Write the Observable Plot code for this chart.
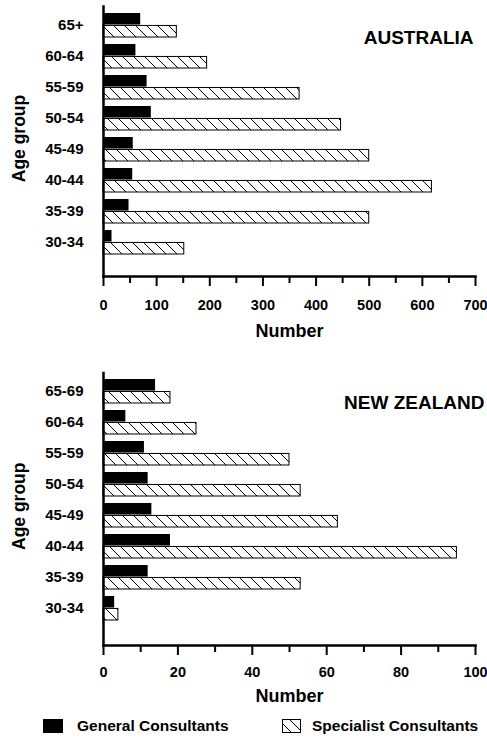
<!DOCTYPE html>
<html>
<head>
<meta charset="utf-8">
<script src="https://cdn.jsdelivr.net/npm/d3@7"></script>
<script src="https://cdn.jsdelivr.net/npm/@observablehq/plot@0.6"></script>
<style>
  html, body { margin: 0; padding: 0; background: #fff; }
  #root { width: 487px; position: relative; }
  #root svg { display: block; }
</style>
</head>
<body>
<svg width="0" height="0" style="position:absolute">
  <defs>
    <pattern id="hatch" patternUnits="userSpaceOnUse" width="11" height="11">
      <path d="M-1,-1 L12,12 M-1,10 L1,12 M10,-1 L12,1" stroke="black" stroke-width="1" fill="none"/>
    </pattern>
  </defs>
</svg>
<div id="root"></div>
<script>
// ---- Data ----
const ausAges = ["30-34", "35-39", "40-44", "45-49", "50-54", "55-59", "60-64", "65+"];
const ausGeneral = [16, 48, 55, 56, 90, 82, 61, 70];
const ausSpecialist = [152, 500, 618, 500, 447, 369, 195, 138];
const ausTicks = [0, 100, 200, 300, 400, 500, 600, 700];
const ausMinorTicks = [50, 150, 250, 350, 450, 550, 650];

const nzAges = ["30-34", "35-39", "40-44", "45-49", "50-54", "55-59", "60-64", "65-69"];
const nzGeneral = [3, 12, 18, 13, 12, 11, 6, 14];
const nzSpecialist = [4, 53, 95, 63, 53, 50, 25, 18];
const nzTicks = [0, 20, 40, 60, 80, 100];
const nzMinorTicks = [10, 30, 50, 70, 90];

const seriesNames = ["General Consultants", "Specialist Consultants"];
const yLabel = "Age group";
const xLabel = "Number";

const FONT = "'Liberation Sans', Arial, Helvetica, sans-serif";

function makeChart(cfg) {
  const rows = cfg.ages.map((a, i) => ({age: a, general: cfg.general[i], specialist: cfg.specialist[i]}));
  const half = 12.45;
  return Plot.plot({
    width: 487,
    height: cfg.height,
    marginLeft: 103,
    marginRight: 12,
    marginTop: cfg.marginTop,
    marginBottom: cfg.marginBottom,
    style: {fontFamily: FONT, fontSize: "14px", fontWeight: "bold", background: "white", color: "black", overflow: "visible"},
    x: {domain: [0, cfg.ticks[cfg.ticks.length - 1]], label: null},
    y: {domain: cfg.ages.slice().reverse(), paddingInner: 0.22, paddingOuter: 0.1, insetBottom: cfg.insetBottom, label: null},
    marks: [
      Plot.barX(rows, {y: "age", x: "general", fill: "black", insetBottom: half}),
      Plot.barX(rows, {y: "age", x: "specialist", fill: "url(#hatch)", stroke: "black", strokeWidth: 1, insetTop: half}),
      Plot.frame({anchor: "left", stroke: "black", strokeWidth: 2.5}),
      Plot.frame({anchor: "bottom", stroke: "black", strokeWidth: 2.5}),
      Plot.axisY({tickSize: 0, tickPadding: 20, fontSize: 15, fontWeight: "bold", label: null}),
      Plot.axisX({ticks: cfg.ticks, tickSize: 10, tickPadding: cfg.labelPad, strokeWidth: 2, fontSize: 14.5, fontWeight: "bold", label: null}),
      Plot.axisX({ticks: cfg.minorTicks, tickSize: 7, tickFormat: () => "", strokeWidth: 2, label: null}),
      Plot.text([yLabel], {frameAnchor: "left", rotate: -90, dx: -84.5, dy: -3, fontSize: 17.5, fontWeight: "bold", lineAnchor: "middle", textAnchor: "middle"}),
      Plot.text([xLabel], {frameAnchor: "bottom", dy: cfg.numberDy, fontSize: 18, fontWeight: "bold", lineAnchor: "middle", textAnchor: "middle"}),
      Plot.text([cfg.title], {frameAnchor: "top-right", dx: cfg.titleDx, dy: cfg.titleDy, fontSize: 19, fontWeight: "bold", textAnchor: "end", lineAnchor: "middle"})
    ]
  });
}

const root = document.getElementById("root");

root.appendChild(makeChart({
  ages: ausAges, general: ausGeneral, specialist: ausSpecialist,
  ticks: ausTicks, minorTicks: ausMinorTicks,
  title: "AUSTRALIA", titleDx: -2, titleDy: 31,
  height: 360, marginTop: 6, marginBottom: 84, insetBottom: 15.3,
  labelPad: 13.5, numberDy: 55
}));

root.appendChild(makeChart({
  ages: nzAges, general: nzGeneral, specialist: nzSpecialist,
  ticks: nzTicks, minorTicks: nzMinorTicks,
  title: "NEW ZEALAND", titleDx: 9, titleDy: 30,
  height: 345, marginTop: 12.5, marginBottom: 60, insetBottom: 17.8,
  labelPad: 11, numberDy: 51
}));

// Legend
const legend = d3.create("svg").attr("width", 487).attr("height", 33)
  .style("font-family", FONT).style("font-weight", "bold").style("font-size", "15.5px");
legend.append("rect").attr("x", 43).attr("y", 14).attr("width", 20).attr("height", 14).attr("fill", "black");
legend.append("text").attr("x", 77).attr("y", 21).attr("dy", "0.35em").text(seriesNames[0]);
legend.append("rect").attr("x", 282.5).attr("y", 14.5).attr("width", 18).attr("height", 13)
  .attr("fill", "url(#hatch)").attr("stroke", "black").attr("stroke-width", 1);
legend.append("text").attr("x", 312).attr("y", 21).attr("dy", "0.35em").text(seriesNames[1]);
root.appendChild(legend.node());
</script>
</body>
</html>
